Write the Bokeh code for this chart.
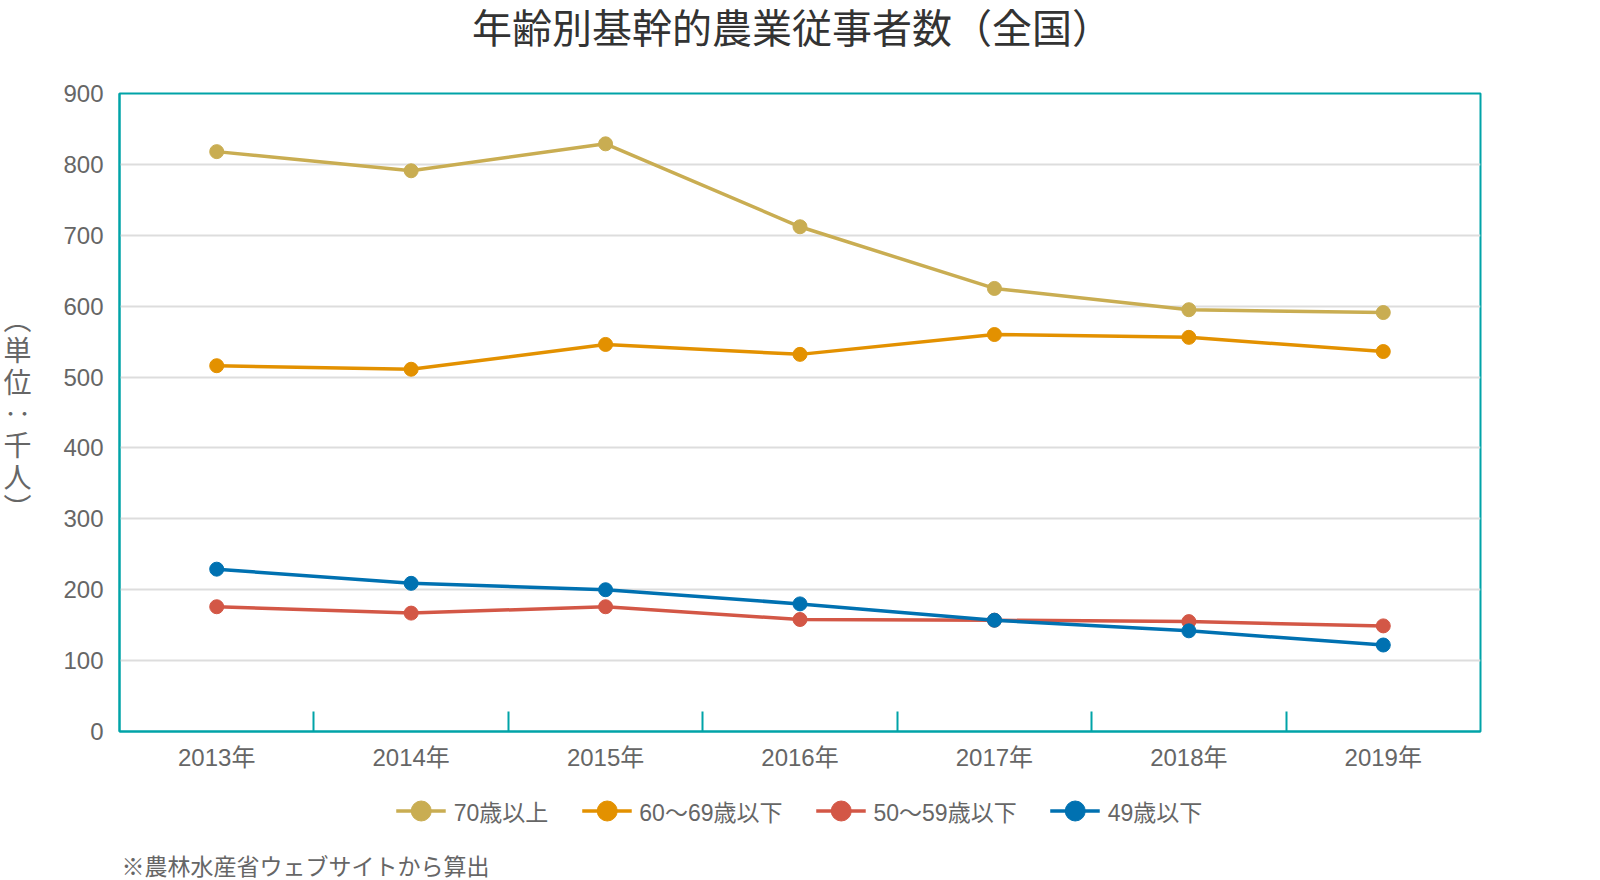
from bokeh.plotting import figure
from bokeh.layouts import column
from bokeh.models import (Range1d, LinearAxis, FixedTicker, Label,
                          Legend, LegendItem, CustomJSTickFormatter)
from bokeh.embed import file_html
from bokeh.resources import INLINE

years = ["2013年", "2014年", "2015年", "2016年", "2017年", "2018年", "2019年"]
s70 = [818, 791, 829, 712, 625, 595, 591]
s60 = [516, 511, 546, 532, 560, 556, 536]
s50 = [176, 167, 176, 158, 157, 155, 149]
s49 = [229, 209, 200, 180, 157, 142, 122]
series_names = ["70歳以上", "60〜69歳以下", "50〜59歳以下", "49歳以下"]
series_colors = ["#C9AD52", "#E39100", "#D35746", "#0071B1"]
y_ticks = [0, 100, 200, 300, 400, 500, 600, 700, 800, 900]
title_text = "年齢別基幹的農業従事者数（全国）"
y_label_text = "︵\n単\n位\n‥\n千\n人\n︶"
note_text = "※農林水産省ウェブサイトから算出"

TEAL = "#00A3A8"
NUM_FONT = "Liberation Sans, Noto Sans CJK JP"
JP_FONT = "Noto Sans CJK JP"
W = 1600
FRAME_L, FRAME_R = 118, 1479


def blank(height):
    # strip whose frame is aligned with the main chart's frame; data units = page pixels
    f = figure(width=W, height=height, x_range=Range1d(FRAME_L, FRAME_R), y_range=Range1d(0, height),
               output_backend="svg", toolbar_location=None,
               x_axis_location=None, y_axis_location=None, min_border=0)
    f.outline_line_color = None
    f.background_fill_color = "white"
    f.border_fill_color = "white"
    for g in list(f.grid):
        g.visible = False
    return f


# ---- title strip
ft = blank(60)
ft.add_layout(Label(x=791, y=35, text=title_text, text_font=JP_FONT, text_font_size="40px",
                    text_color="#333333", text_align="center", text_baseline="middle"))

# ---- main chart
n = len(years)
xc = [i + 0.5 for i in range(n)]  # category centres on a 0..n index scale

p = figure(frame_width=FRAME_R - FRAME_L, frame_height=638, x_range=Range1d(0, n),
           y_range=Range1d(0, 900), output_backend="svg", toolbar_location=None,
           x_axis_location=None, y_axis_location=None,
           min_border_left=FRAME_L, min_border_right=W - FRAME_R, min_border_top=33, min_border_bottom=46)
p.outline_line_color = TEAL
p.outline_line_width = 2
p.background_fill_color = "white"
p.border_fill_color = "white"

yax = LinearAxis(ticker=FixedTicker(ticks=y_ticks))
yax.axis_line_color = TEAL
yax.axis_line_width = 2
yax.major_tick_line_color = None
yax.minor_tick_line_color = None
yax.major_label_text_font = NUM_FONT
yax.major_label_text_font_size = "24px"
yax.major_label_text_color = "#666666"
yax.major_label_standoff = 10
yax.axis_label = y_label_text
yax.axis_label_orientation = "horizontal"
yax.axis_label_text_font = JP_FONT
yax.axis_label_text_font_size = "28px"
yax.axis_label_text_font_style = "normal"
yax.axis_label_text_color = "#666666"
yax.axis_label_text_line_height = 0.79
yax.axis_label_standoff = 29
p.add_layout(yax, "left")

tax = LinearAxis(ticker=FixedTicker(ticks=list(range(1, n))))
tax.axis_line_color = TEAL
tax.axis_line_width = 2
tax.major_tick_line_color = TEAL
tax.major_tick_line_width = 2
tax.major_tick_in = 20
tax.major_tick_out = 0
tax.minor_tick_line_color = None
tax.major_label_text_font_size = "1px"
tax.major_label_standoff = 0
tax.formatter = CustomJSTickFormatter(code="return ''")
p.add_layout(tax, "below")

cax = LinearAxis(ticker=FixedTicker(ticks=xc))
cax.major_label_overrides = {x: y for x, y in zip(xc, years)}
cax.axis_line_color = None
cax.major_tick_line_color = None
cax.minor_tick_line_color = None
cax.major_label_text_font = NUM_FONT
cax.major_label_text_font_size = "24px"
cax.major_label_text_color = "#666666"
cax.major_label_standoff = 6
p.add_layout(cax, "below")

p.xgrid.grid_line_color = None
p.ygrid.ticker = FixedTicker(ticks=y_ticks)
p.ygrid.grid_line_color = "#dddddd"
p.ygrid.grid_line_width = 2

all_series = [s70, s60, s50, s49]
for vals, col in zip(all_series, series_colors):
    p.line(xc, vals, line_color=col, line_width=3.5)
    p.scatter(xc, vals, marker="circle", size=14, fill_color=col, line_color=col)

# ---- legend + source note strip (legend renderers lie outside this strip's frame)
fl = blank(103)
items = []
for name, vals, col in zip(series_names, all_series, series_colors):
    l = fl.line(xc, vals, line_color=col, line_width=3.5)
    c = fl.scatter(xc, vals, marker="circle", size=14, fill_color=col, line_color=col)
    items.append(LegendItem(label=name, renderers=[l, c]))

legend = Legend(items=items, orientation="horizontal", location="top_center")
legend.label_text_font = NUM_FONT
legend.label_text_font_size = "23px"
legend.label_text_color = "#666666"
legend.glyph_width = 50
legend.glyph_height = 55
legend.label_standoff = 8
legend.spacing = 33
legend.border_line_color = None
legend.background_fill_alpha = 0
legend.margin = 6
legend.padding = 4
fl.add_layout(legend)

fl.add_layout(Label(x=120, y=16, text=note_text, text_font=JP_FONT, text_font_size="23px",
                    text_color="#666666", text_align="left", text_baseline="middle"))

layout = column(ft, p, fl, spacing=0)
open("out.html", "w").write(file_html(layout, INLINE))
